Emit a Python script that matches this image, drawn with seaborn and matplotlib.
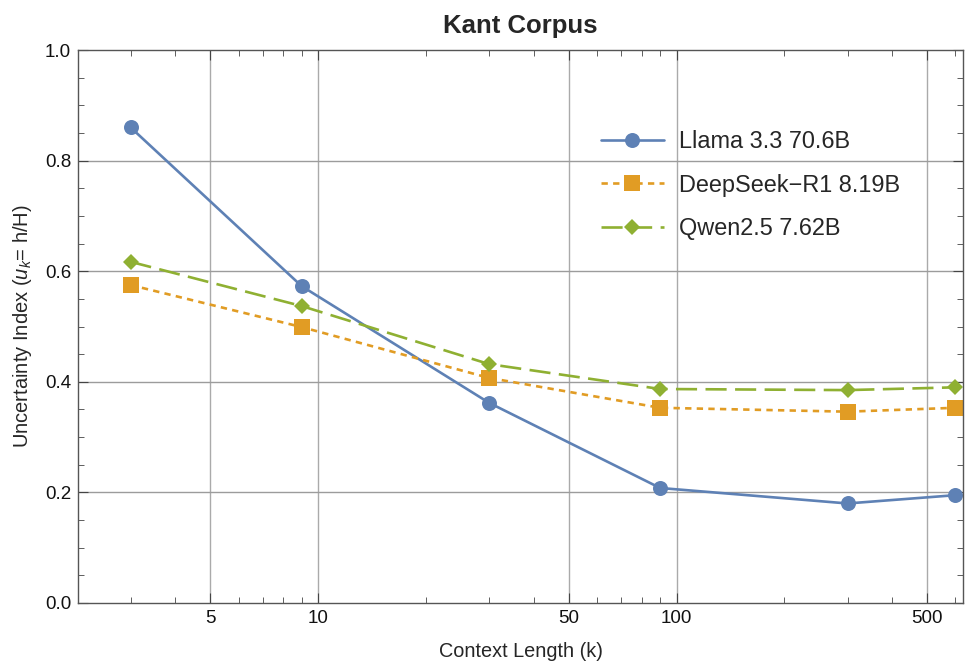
import numpy as np
import pandas as pd
import matplotlib.pyplot as plt
import seaborn as sns
from matplotlib.ticker import FixedLocator, FixedFormatter, MultipleLocator

# context length in thousands of tokens
context_k = [3, 9, 30, 90, 300, 600]

# uncertainty index per model
llama = [0.860, 0.573, 0.362, 0.208, 0.180, 0.195]
deepseek = [0.575, 0.499, 0.407, 0.353, 0.346, 0.353]
qwen = [0.617, 0.537, 0.432, 0.387, 0.385, 0.390]

models = ["Llama 3.3 70.6B", "DeepSeek\u2212R1 8.19B", "Qwen2.5 7.62B"]

x_major = [5, 10, 50, 100, 500]
x_labels = ["5", "10", "50", "100", "500"]

df = pd.DataFrame({
    "context": context_k * 3,
    "u": llama + deepseek + qwen,
    "model": [m for m in models for _ in context_k],
})

# Mathematica-like palette and styles
styles = {
    models[0]: dict(color="#5E81B5", marker="o", markersize=10.8, linestyle="-"),
    models[1]: dict(color="#E19C24", marker="s", markersize=12.0, linestyle=(0, (2.4, 2.0))),
    models[2]: dict(color="#8FB032", marker="D", markersize=8.5, linestyle=(0, (8, 3.2))),
}

sns.set_style("ticks")
plt.rcParams["font.family"] = ["Liberation Sans", "DejaVu Sans"]
plt.rcParams["mathtext.fontset"] = "custom"
plt.rcParams["mathtext.it"] = "Liberation Sans:italic"
plt.rcParams["mathtext.rm"] = "Liberation Sans"

fig = plt.figure(figsize=(9.67, 6.66), dpi=100)
ax = fig.add_axes([0.0807, 0.0946, 0.9152, 0.8303])

for m in models:
    sub = df[df["model"] == m]
    st = styles[m]
    sns.lineplot(data=sub, x="context", y="u", ax=ax, label=m,
                 color=st["color"], marker=st["marker"], markersize=st["markersize"],
                 markeredgewidth=0, linewidth=1.9, linestyle=st["linestyle"],
                 dashes=False, sort=False)

ax.set_xscale("log")
ax.set_xlim(2.14, 630)
ax.set_ylim(0, 1.0)

ax.xaxis.set_major_locator(FixedLocator(x_major))
ax.xaxis.set_major_formatter(FixedFormatter(x_labels))
minor = [d * k for d in (1, 10, 100) for k in range(2, 10)]
ax.xaxis.set_minor_locator(FixedLocator(minor))
ax.xaxis.set_minor_formatter(FixedFormatter([""] * len(minor)))
ax.yaxis.set_major_locator(MultipleLocator(0.2))
ax.yaxis.set_minor_locator(MultipleLocator(0.05))
ax.yaxis.set_major_formatter(plt.FuncFormatter(lambda v, p: f"{v:.1f}"))

for v in x_major:
    ax.axvline(v, color="#AAAAAA", lw=1.0, zorder=0)
for v in [0.2, 0.4, 0.6, 0.8]:
    ax.axhline(v, color="#9C9C9C", lw=1.0, zorder=0)

ax.tick_params(which="both", direction="in", top=True, right=True,
               labelsize=13.5, colors="#444444", labelcolor="#111111", pad=5)
ax.tick_params(which="major", length=7, width=0.8)
ax.tick_params(which="minor", length=4.5, width=0.6)
for s in ax.spines.values():
    s.set_color("#555555")
    s.set_linewidth(1.0)

ax.set_title("Kant Corpus", fontsize=18.5, fontweight="bold", pad=12)
ax.set_xlabel("Context Length (k)", fontsize=14.3, labelpad=11)
ax.set_ylabel(r"Uncertainty Index ($u_k$= h/H)", fontsize=14.5, labelpad=8)

ax.legend(loc="upper left", bbox_to_anchor=(0.580, 0.872), frameon=False,
          fontsize=16.9, handlelength=2.7, handletextpad=0.64, labelspacing=0.87,
          borderaxespad=0)

fig.savefig("out.png", dpi=100)
